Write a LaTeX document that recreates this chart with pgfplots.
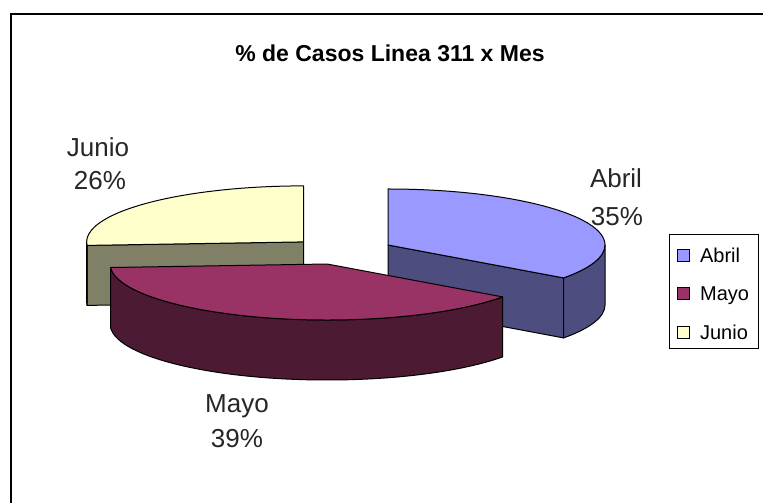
\documentclass[border=0pt]{standalone}
\usepackage{pgfplots}
\usepackage{pgfplotstable}
\pgfplotsset{compat=1.18}
\usepackage{fontspec}
\setmainfont{Liberation Sans}
\definecolor{abrilTop}{RGB}{153,153,255}
\definecolor{abrilSide}{RGB}{77,77,128}
\definecolor{mayoTop}{RGB}{153,51,102}
\definecolor{mayoSide}{RGB}{77,26,51}
\definecolor{junioTop}{RGB}{255,255,204}
\definecolor{junioSide}{RGB}{128,128,102}

\pgfplotstableread{
mes valor
Abril 35
Mayo 39
Junio 26
}\datos

\begin{document}
\begin{tikzpicture}
\pgfplotstablegetelem{0}{valor}\of\datos \let\vA\pgfplotsretval
\pgfplotstablegetelem{1}{valor}\of\datos \let\vM\pgfplotsretval
\pgfplotstablegetelem{2}{valor}\of\datos \let\vJ\pgfplotsretval
\pgfmathsetmacro\tot{\vA+\vM+\vJ}
\pgfmathsetmacro\aA{90}
\pgfmathsetmacro\aB{\aA-360*\vA/\tot}
\pgfmathsetmacro\aC{\aB-360*\vM/\tot}
\pgfmathsetmacro\aD{\aC-360*\vJ/\tot}
\def\R{217}\def\r{56}\def\T{60}\def\ex{0.24}
\def\Ox{341.6}\def\Oy{251.9}
% slice centres (exploded)
\pgfmathsetmacro\mA{(\aA+\aB)/2}
\pgfmathsetmacro\mM{(\aB+\aC)/2}
\pgfmathsetmacro\mJ{(\aC+\aD)/2}
\pgfmathsetmacro\Ax{\Ox+\ex*\R*cos(\mA)}\pgfmathsetmacro\Ay{\Oy+\ex*\r*sin(\mA)}
\pgfmathsetmacro\Mx{\Ox+\ex*\R*cos(\mM)}\pgfmathsetmacro\My{\Oy+\ex*\r*sin(\mM)}
\pgfmathsetmacro\Jx{\Ox+\ex*\R*cos(\mJ)}\pgfmathsetmacro\Jy{\Oy+\ex*\r*sin(\mJ)}
% rim points
\pgfmathsetmacro\AaX{\Ax+\R*cos(\aA)}\pgfmathsetmacro\AaY{\Ay+\r*sin(\aA)}
\pgfmathsetmacro\AbX{\Ax+\R*cos(\aB)}\pgfmathsetmacro\AbY{\Ay+\r*sin(\aB)}
\pgfmathsetmacro\AzX{\Ax+\R}\pgfmathsetmacro\AzY{\Ay}
\pgfmathsetmacro\MbX{\Mx+\R*cos(\aB)}\pgfmathsetmacro\MbY{\My+\r*sin(\aB)}
\pgfmathsetmacro\JcX{\Jx+\R*cos(\aC)}\pgfmathsetmacro\JcY{\Jy+\r*sin(\aC)}
\pgfmathsetmacro\AyB{\Ay-\T}\pgfmathsetmacro\JyB{\Jy-\T}
\begin{axis}[
  at={(0,0)}, anchor=south west,
  scale only axis, width=763bp, height=503bp,
  xmin=0, xmax=763, ymin=0, ymax=503,
  axis lines=none, clip=false,
  legend style={at={(axis cs:669,269)}, anchor=north west, draw=black, line width=1.2bp,
    fill=white, inner xsep=7.5bp, inner ysep=5.5bp, row sep=12.5bp, column sep=8bp,
    font=\fontsize{20bp}{24bp}\selectfont,
    nodes={text height=22bp, text depth=4bp, inner ysep=0bp, inner xsep=2bp}},
  legend cell align=left,
  legend image code/.code={\draw[#1, draw=black, line width=1bp] (0bp,-8bp) rectangle (12bp,4bp);},
]
\addlegendimage{fill=abrilTop}\addlegendentry{Abril}
\addlegendimage{fill=mayoTop}\addlegendentry{Mayo}
\addlegendimage{fill=junioTop}\addlegendentry{Junio}

% outer frame
\draw[line width=2bp] (axis cs:11,-30) -- (axis cs:11,488.7) -- (axis cs:800,488.7);

\begin{scope}[line width=1bp, line join=round, draw=black]
% ---- Junio ----
\filldraw[fill=junioSide] (axis cs:\Jx,\Jy) -- (axis cs:\JcX,\JcY) -- ++(0,-\T bp) -- (axis cs:\Jx,\JyB) -- cycle;
\filldraw[fill=junioSide] (axis cs:\JcX,\JcY) arc[start angle=\aC, end angle=-180, x radius=\R bp, y radius=\r bp]
   -- ++(0,-\T bp) arc[start angle=-180, end angle=\aC, x radius=\R bp, y radius=\r bp] -- cycle;
\filldraw[fill=junioTop] (axis cs:\Jx,\Jy) -- (axis cs:\JcX,\JcY) arc[start angle=\aC, end angle=\aD, x radius=\R bp, y radius=\r bp] -- cycle;
% ---- Abril ----
\filldraw[fill=abrilSide] (axis cs:\Ax,\Ay) -- (axis cs:\AbX,\AbY) -- ++(0,-\T bp) -- (axis cs:\Ax,\AyB) -- cycle;
\filldraw[fill=abrilSide] (axis cs:\AzX,\AzY) arc[start angle=0, end angle=\aB, x radius=\R bp, y radius=\r bp]
   -- ++(0,-\T bp) arc[start angle=\aB, end angle=0, x radius=\R bp, y radius=\r bp] -- cycle;
\filldraw[fill=abrilTop] (axis cs:\Ax,\Ay) -- (axis cs:\AaX,\AaY) arc[start angle=\aA, end angle=\aB, x radius=\R bp, y radius=\r bp] -- cycle;
% ---- Mayo ----
\filldraw[fill=mayoSide] (axis cs:\MbX,\MbY) arc[start angle=\aB, end angle=\aC, x radius=\R bp, y radius=\r bp]
   -- ++(0,-\T bp) arc[start angle=\aC, end angle=\aB, x radius=\R bp, y radius=\r bp] -- cycle;
\filldraw[fill=mayoTop] (axis cs:\Mx,\My) -- (axis cs:\MbX,\MbY) arc[start angle=\aB, end angle=\aC, x radius=\R bp, y radius=\r bp] -- cycle;
\end{scope}

% title
\node[anchor=base, font=\bfseries\fontsize{23bp}{27bp}\selectfont] at (axis cs:390,441) {\% de Casos Linea 311 x Mes};
% data labels
\begin{scope}[every node/.style={anchor=base, font=\fontsize{26bp}{30bp}\selectfont, text=black!85}]
\node at (axis cs:616,315) {Abril};
\node at (axis cs:617,277) {35\%};
\node at (axis cs:98,346) {Junio};
\node at (axis cs:100,313) {26\%};
\node at (axis cs:237,90) {Mayo};
\node at (axis cs:237,55) {39\%};
\end{scope}
\end{axis}
\pgfresetboundingbox
\path (0,0) rectangle (763bp,503bp);
\end{tikzpicture}
\end{document}
